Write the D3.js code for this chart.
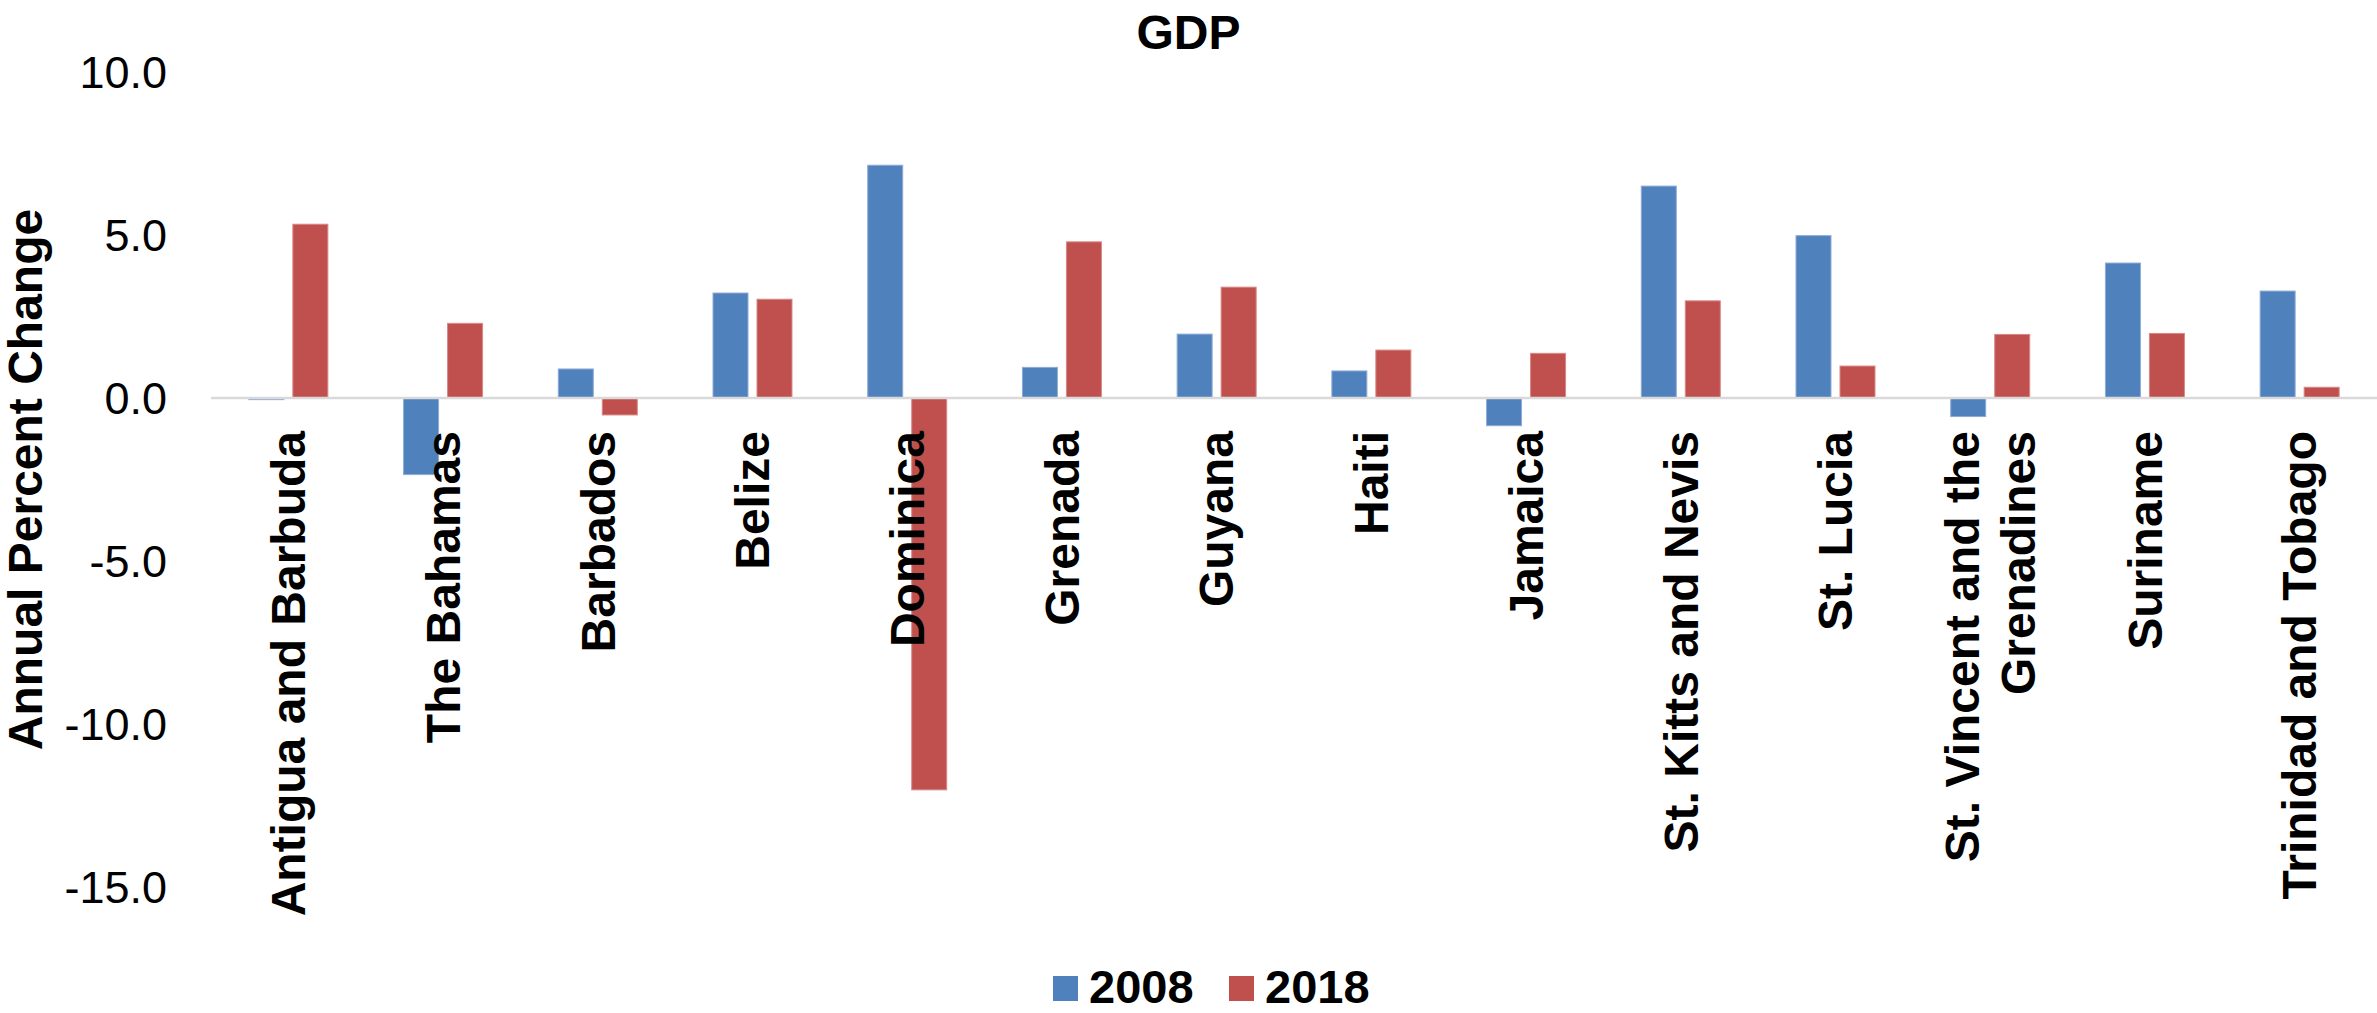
<!DOCTYPE html>
<html>
<head>
<meta charset="utf-8">
<script src="https://cdn.jsdelivr.net/npm/d3@7"></script>
<style>
  html, body { margin: 0; padding: 0; background: #ffffff; }
  svg { display: block; }
  text { font-family: "Liberation Sans", Arial, Helvetica, sans-serif; fill: #000; }
</style>
</head>
<body>
<svg id="chart" width="2377" height="1013"></svg>
<script>
// ---- data ----
const categories = [
  "Antigua and Barbuda", "The Bahamas", "Barbados", "Belize", "Dominica",
  "Grenada", "Guyana", "Haiti", "Jamaica", "St. Kitts and Nevis",
  "St. Lucia", "St. Vincent and the Grenadines", "Suriname", "Trinidad and Tobago"
];
const categoryLines = [
  ["Antigua and Barbuda"], ["The Bahamas"], ["Barbados"], ["Belize"], ["Dominica"],
  ["Grenada"], ["Guyana"], ["Haiti"], ["Jamaica"], ["St. Kitts and Nevis"],
  ["St. Lucia"], ["St. Vincent and the", "Grenadines"], ["Suriname"], ["Trinidad and Tobago"]
];
const seriesNames = ["2008", "2018"];
const values2008 = [-0.05, -2.35, 0.89, 3.22, 7.14, 0.94, 1.96, 0.83, -0.85, 6.50, 4.98, -0.57, 4.14, 3.28];
const values2018 = [5.33, 2.29, -0.52, 3.03, -12.02, 4.79, 3.40, 1.47, 1.37, 2.98, 0.98, 1.95, 1.98, 0.33];
const yTicks = [10, 5, 0, -5, -10, -15];
const colors = ["#4F81BD", "#C0504D"];
const strokes = ["#8EABD6", "#D88886"];

const seriesValues = [values2008, values2018];

// ---- layout ----
const svg = d3.select("#chart");
const plotLeft = 211, plotRight = 2377, plotTop = 72, plotBottom = 887;

const x0 = d3.scaleBand().domain(categories).range([plotLeft, plotRight]).paddingInner(0).paddingOuter(0);
const bw = x0.bandwidth();
const x1 = d3.scaleBand().domain(seriesNames).range([bw * 0.2447, bw * 0.7553]).paddingInner(0.2045).paddingOuter(0);
const y = d3.scaleLinear().domain([-15, 10]).range([plotBottom, plotTop]);

// title
svg.append("text")
  .attr("x", 1188.5).attr("y", 49)
  .attr("text-anchor", "middle")
  .attr("font-size", 48).attr("font-weight", "bold")
  .text("GDP");

// y axis (labels only)
const yAxis = d3.axisLeft(y).tickValues(yTicks).tickFormat(d => d.toFixed(1)).tickSize(0).tickPadding(0);
const yg = svg.append("g").attr("transform", `translate(167,0)`).call(yAxis);
yg.select(".domain").remove();
yg.selectAll("text")
  .attr("font-size", 45)
  .attr("font-family", "'Liberation Sans', Arial, sans-serif")
  .attr("fill", "#000")
  .attr("dy", "0.35em");

// y title
svg.append("text")
  .attr("transform", `translate(42,${(plotTop + plotBottom) / 2}) rotate(-90)`)
  .attr("text-anchor", "middle")
  .attr("font-size", 48).attr("font-weight", "bold")
  .text("Annual Percent Change");

// bars
const groups = svg.append("g").selectAll("g")
  .data(categories)
  .join("g")
  .attr("transform", d => `translate(${x0(d)},0)`);

groups.selectAll("rect")
  .data((d, i) => seriesNames.map((s, j) => ({ s, j, v: seriesValues[j][i] })))
  .join("rect")
  .attr("x", d => x1(d.s))
  .attr("width", x1.bandwidth())
  .attr("y", d => Math.min(y(d.v), y(0)))
  .attr("height", d => Math.max(1, Math.abs(y(d.v) - y(0))))
  .attr("fill", d => colors[d.j])
  .attr("stroke", d => strokes[d.j])
  .attr("stroke-width", 1);

// zero line
svg.append("line")
  .attr("x1", plotLeft).attr("x2", plotRight)
  .attr("y1", y(0)).attr("y2", y(0))
  .attr("stroke", "#D9D9D9").attr("stroke-width", 2.5);

// x category labels (rotated)
const labelTop = 431;
const lineH = 1.15;
categories.forEach((c, i) => {
  const cx = x0(c) + bw / 2;
  const lines = categoryLines[i];
  const t = svg.append("text")
    .attr("transform", `translate(${cx},${labelTop}) rotate(-90)`)
    .attr("text-anchor", "end")
    .attr("font-size", 48).attr("font-weight", "bold");
  const first = 0.35 - (lines.length - 1) * lineH / 2;
  lines.forEach((ln, k) => {
    t.append("tspan")
      .attr("x", 0)
      .attr("dy", k === 0 ? `${first}em` : `${lineH}em`)
      .text(ln);
  });
});

// legend
const legendItems = [
  { name: "2008", color: colors[0], sx: 1053, tx: 1089 },
  { name: "2018", color: colors[1], sx: 1229, tx: 1265 }
];
const lg = svg.append("g");
legendItems.forEach(it => {
  lg.append("rect").attr("x", it.sx).attr("y", 976).attr("width", 25).attr("height", 25).attr("fill", it.color);
  lg.append("text").attr("x", it.tx).attr("y", 1003)
    .attr("font-size", 47).attr("font-weight", "bold").text(it.name);
});
</script>
</body>
</html>
